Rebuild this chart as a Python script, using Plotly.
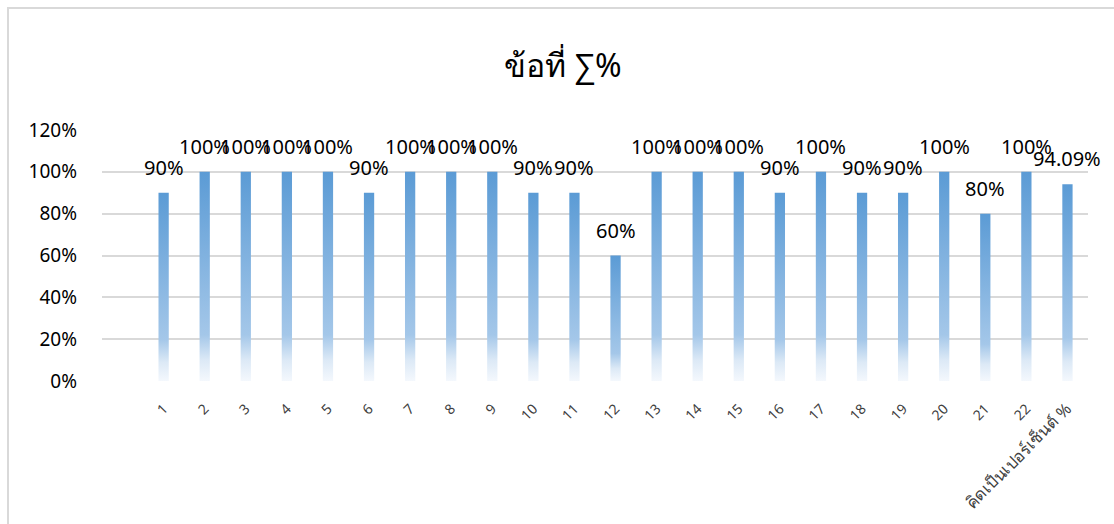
import plotly.graph_objects as go

categories = [str(i) for i in range(1, 23)] + ["คิดเป็นเปอร์เซ็นต์ %"]
values = [0.9, 1.0, 1.0, 1.0, 1.0, 0.9, 1.0, 1.0, 1.0, 0.9, 0.9, 0.6,
          1.0, 1.0, 1.0, 0.9, 1.0, 0.9, 0.9, 1.0, 0.8, 1.0, 0.9409]
labels = ["90%", "100%", "100%", "100%", "100%", "90%", "100%", "100%", "100%",
          "90%", "90%", "60%", "100%", "100%", "100%", "90%", "100%", "90%",
          "90%", "100%", "80%", "100%", "94.09%"]
title_text = "ข้อที่ ∑%"
y_ticks = [0, 0.2, 0.4, 0.6, 0.8, 1.0, 1.2]
y_ticklabels = ["0%", "20%", "40%", "60%", "80%", "100%", "120%"]

BAR_HALF = 0.125
FONT = "'Noto Sans', 'Open Sans', sans-serif"

L, R, T, B = 102, 26, 130, 143
PW, PH = 1114 - L - R, 524 - T - B

fig = go.Figure()
grad = [[0, "#F4F8FD"], [0.1, "#DCE9F6"], [0.22, "#A4C7E9"], [1, "#5B9BD5"]]
for i, v in enumerate(values):
    fig.add_trace(go.Scatter(
        x=[i - BAR_HALF, i + BAR_HALF, i + BAR_HALF, i - BAR_HALF, i - BAR_HALF],
        y=[0, 0, v, v, 0],
        mode="lines", line=dict(width=0), fill="toself",
        fillgradient=dict(type="vertical", colorscale=grad, start=0, stop=v),
        hoverinfo="skip", showlegend=False,
    ))

for i, (v, t) in enumerate(zip(values, labels)):
    fig.add_annotation(x=i, y=v, text=t, showarrow=False, yanchor="bottom",
                       yshift=10, font=dict(size=20, color="#000000", family=FONT))

ticktext = [c if c.isdigit() else f"<span style='font-size:16.5px'>{c}</span>" for c in categories]

fig.update_layout(
    width=1114, height=524,
    margin=dict(l=L, r=R, t=T, b=B),
    paper_bgcolor="white", plot_bgcolor="white",
    title=dict(text=title_text, x=563 / 1114, xref="container", xanchor="center",
               y=0.875, yanchor="middle",
               font=dict(size=32, color="#000000", family=FONT, weight="normal")),
    showlegend=False,
    xaxis=dict(range=[-1.5, len(categories) - 0.5], tickmode="array",
               tickvals=list(range(len(categories))), ticktext=ticktext,
               tickangle=-45, showgrid=False, zeroline=False, showline=False,
               ticks="", ticklabelstandoff=16,
               tickfont=dict(size=14, color="#404040", family=FONT)),
    yaxis=dict(range=[0, 1.2], tickmode="array", tickvals=y_ticks, ticktext=y_ticklabels,
               showgrid=True, gridcolor="#D9D9D9", gridwidth=2, zeroline=False,
               showline=False, ticks="", ticklabelstandoff=24,
               tickfont=dict(size=19, color="#000000", family=FONT)),
)

# outer chart border (light gray)
fig.add_shape(type="rect", xref="paper", yref="paper",
              x0=(8 - L) / PW, x1=(1200 - L) / PW,
              y0=(T + PH - 600) / PH, y1=(T + PH - 8) / PH,
              line=dict(color="#D9D9D9", width=2), fillcolor="rgba(0,0,0,0)", layer="below")

fig.write_html("out.html")
